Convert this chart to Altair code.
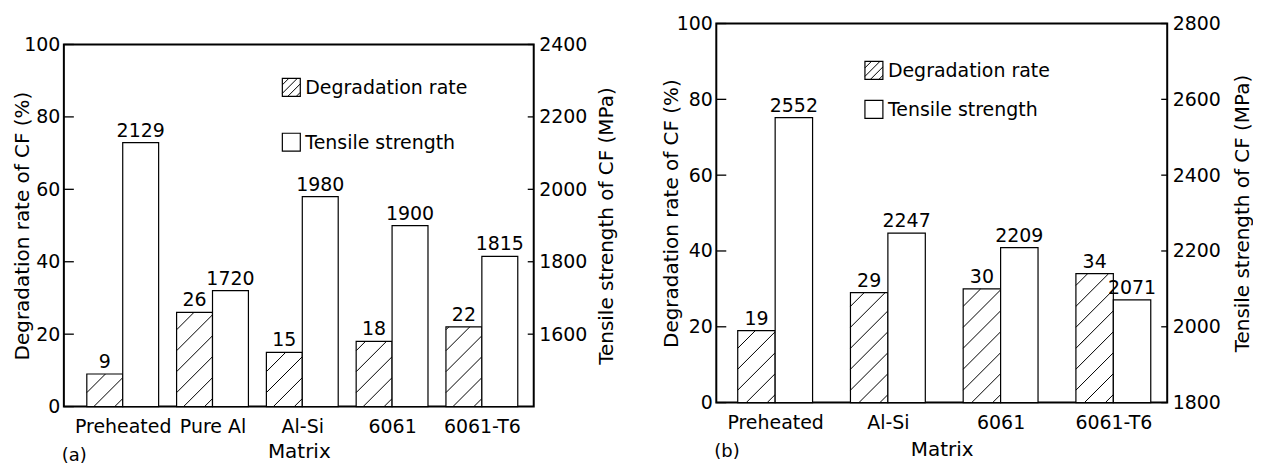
import json
import altair as alt
import pandas as pd

FONT = "DejaVu Sans"

# ---- data (panel a) ----
cats_a = ["Preheated", "Pure Al", "Al-Si", "6061", "6061-T6"]
deg_a = [9, 26, 15, 18, 22]
ts_a = [2129, 1720, 1980, 1900, 1815]
right_ticks_a = [1600, 1800, 2000, 2200, 2400]
y2_dom_a = [1400, 2400]

# ---- data (panel b) ----
cats_b = ["Preheated", "Al-Si", "6061", "6061-T6"]
deg_b = [19, 29, 30, 34]
ts_b = [2552, 2247, 2209, 2071]
right_ticks_b = [1800, 2000, 2200, 2400, 2600, 2800]
y2_dom_b = [1800, 2800]

left_ticks = [0, 20, 40, 60, 80, 100]
leg_labels = ["Degradation rate", "Tensile strength"]


def hatch_px(w, h, spacing, phase):
    """45-degree hatch segments inside a w x h box (origin bottom-left, y up)."""
    segs = []
    c = -w + phase
    while c < h:
        xa = max(0.0, -c)
        xb = min(w, h - c)
        if xb > xa + 0.5:
            segs.append((xa, xa + c, xb, xb + c))
        c += spacing
    return segs


def one():
    return pd.DataFrame({"k": [0]})


def legend_layers(lx, ly1, ly2, size):
    layers = []
    layers.append(alt.Chart(one()).mark_rect(fill="white", stroke="black", strokeWidth=1.2).encode(
        x=alt.value(lx), x2=alt.value(lx + size), y=alt.value(ly1), y2=alt.value(ly1 + size)))
    for (xa, ya, xb, yb) in hatch_px(size, size, 8.5, 4):
        layers.append(alt.Chart(one()).mark_rule(color="black", strokeWidth=1).encode(
            x=alt.value(lx + xa), x2=alt.value(lx + xb),
            y=alt.value(ly1 + size - ya), y2=alt.value(ly1 + size - yb)))
    layers.append(alt.Chart(one()).mark_text(font=FONT, fontSize=19, align="left", baseline="middle").encode(
        x=alt.value(lx + size + 5), y=alt.value(ly1 + size / 2 + 1), text=alt.value(leg_labels[0])))
    layers.append(alt.Chart(one()).mark_rect(fill="white", stroke="black", strokeWidth=1.2).encode(
        x=alt.value(lx), x2=alt.value(lx + size), y=alt.value(ly2), y2=alt.value(ly2 + size)))
    layers.append(alt.Chart(one()).mark_text(font=FONT, fontSize=19, align="left", baseline="middle").encode(
        x=alt.value(lx + size + 5), y=alt.value(ly2 + size / 2 + 1), text=alt.value(leg_labels[1])))
    return layers


def panel(cats, deg, ts, y2_dom, y2_ticks, W, H, step, first, bw, tag,
          lt_x, rt_x, x_title_y, tag_y, leg):
    n = len(cats)
    idx = list(range(n))
    lo = -first / step
    hi = lo + W / step
    df_deg = pd.DataFrame({"x0": [i - bw for i in idx], "x1": idx,
                           "xm": [i - bw / 2 for i in idx], "v": deg})
    df_ts = pd.DataFrame({"x0": idx, "x1": [i + bw for i in idx],
                          "xm": [i + bw / 2 for i in idx], "v": ts})
    rows = []
    w_px = bw * step
    for i, v in zip(idx, deg):
        h_px = v / 100 * H
        for (xa, ya, xb, yb) in hatch_px(w_px, h_px, 21, 8):
            rows.append({"hx": i - bw + xa / step, "hx2": i - bw + xb / step,
                         "hy": ya / H * 100, "hy2": yb / H * 100})
    df_h = pd.DataFrame(rows)

    xscale = alt.Scale(domain=[lo, hi], nice=False, zero=False)
    xaxis = alt.Axis(values=idx, labelExpr=f"{json.dumps(cats)}[datum.value]",
                     tickSize=0, domain=False, grid=False, labelPadding=11,
                     labelFlush=False, labelOverlap=False,
                     title="Matrix", titleY=x_title_y, titleBaseline="middle")
    ysc1 = alt.Scale(domain=[0, 100], nice=False, zero=False)
    yax1 = alt.Axis(orient="left", values=left_ticks, tickSize=0, domain=False,
                    grid=False, labelPadding=4, format="d",
                    title="Degradation rate of CF (%)",
                    titleX=lt_x, titleBaseline="middle", titleAngle=270)
    ysc2 = alt.Scale(domain=y2_dom, nice=False, zero=False)
    yax2 = alt.Axis(orient="right", values=y2_ticks, tickSize=0, domain=False,
                    grid=False, labelPadding=5, format="d",
                    title="Tensile strength of CF (MPa)",
                    titleX=rt_x, titleBaseline="middle", titleAngle=270)

    bars1 = alt.Chart(df_deg).mark_rect(fill="white", stroke="black", strokeWidth=1.2).encode(
        x=alt.X("x0:Q", scale=xscale, axis=xaxis), x2="x1:Q",
        y=alt.Y("v:Q", scale=ysc1, axis=yax1), y2=alt.datum(0))
    hatch = alt.Chart(df_h).mark_rule(color="black", strokeWidth=1).encode(
        x=alt.X("hx:Q", scale=xscale, axis=xaxis), x2="hx2:Q",
        y=alt.Y("hy:Q", scale=ysc1, axis=yax1), y2="hy2:Q")
    lab1 = alt.Chart(df_deg).mark_text(font=FONT, fontSize=19, baseline="alphabetic", dy=-6).encode(
        x=alt.X("xm:Q", scale=xscale, axis=xaxis),
        y=alt.Y("v:Q", scale=ysc1, axis=yax1), text="v:Q")
    # inward tick marks at the axis tick values
    ticks1 = alt.Chart(pd.DataFrame({"t": left_ticks})).mark_rule(color="black", strokeWidth=1.3).encode(
        y=alt.Y("t:Q", scale=ysc1, axis=yax1), x=alt.value(0), x2=alt.value(10))
    tag_t = alt.Chart(one()).mark_text(font=FONT, fontSize=18, align="left", baseline="middle").encode(
        x=alt.value(-2), y=alt.value(H + tag_y), text=alt.value(tag))

    bars2 = alt.Chart(df_ts).mark_rect(fill="white", stroke="black", strokeWidth=1.2).encode(
        x=alt.X("x0:Q", scale=xscale, axis=xaxis), x2="x1:Q",
        y=alt.Y("v:Q", scale=ysc2, axis=yax2), y2=alt.datum(y2_dom[0]))
    lab2 = alt.Chart(df_ts).mark_text(font=FONT, fontSize=19, baseline="alphabetic", dy=-6).encode(
        x=alt.X("xm:Q", scale=xscale, axis=xaxis),
        y=alt.Y("v:Q", scale=ysc2, axis=yax2), text="v:Q")
    ticks2 = alt.Chart(pd.DataFrame({"t": y2_ticks})).mark_rule(color="black", strokeWidth=1.3).encode(
        y=alt.Y("t:Q", scale=ysc2, axis=yax2), x=alt.value(W - 6), x2=alt.value(W))

    left_group = alt.layer(bars1, hatch, lab1, ticks1, *legend_layers(*leg), tag_t)
    right_group = alt.layer(bars2, lab2, ticks2)
    return alt.layer(left_group, right_group).resolve_scale(y="independent").properties(
        width=W, height=H)


pa = panel(cats_a, deg_a, ts_a, y2_dom_a, right_ticks_a, 471, 363, 90, 59, 0.4, "(a)",
           -41, 73, 45, 50, (219, 34, 89, 18))
pb = panel(cats_b, deg_b, ts_b, y2_dom_b, right_ticks_b, 452, 380, 113, 59, 0.332, "(b)",
           -45, 75, 47, 50, (149, 38, 77, 18))

spacer = alt.Chart(one()).mark_point(opacity=0).encode(
    x=alt.value(0), y=alt.value(0)).properties(
    width=1, height=1, view=alt.ViewBackground(stroke="transparent"))

left_col = alt.vconcat(spacer, pa, spacing=7)

chart = alt.hconcat(left_col, pb, spacing=42).properties(
    padding={"left": 3, "top": 5, "right": 0, "bottom": 5}
).configure_view(stroke="black", strokeWidth=2).configure_axis(
    labelFont=FONT, labelFontSize=19, labelColor="black",
    titleFont=FONT, titleFontSize=20, titleFontWeight="normal", titleColor="black")

chart.save("out.html", embed_options={"renderer": "svg", "actions": False})
